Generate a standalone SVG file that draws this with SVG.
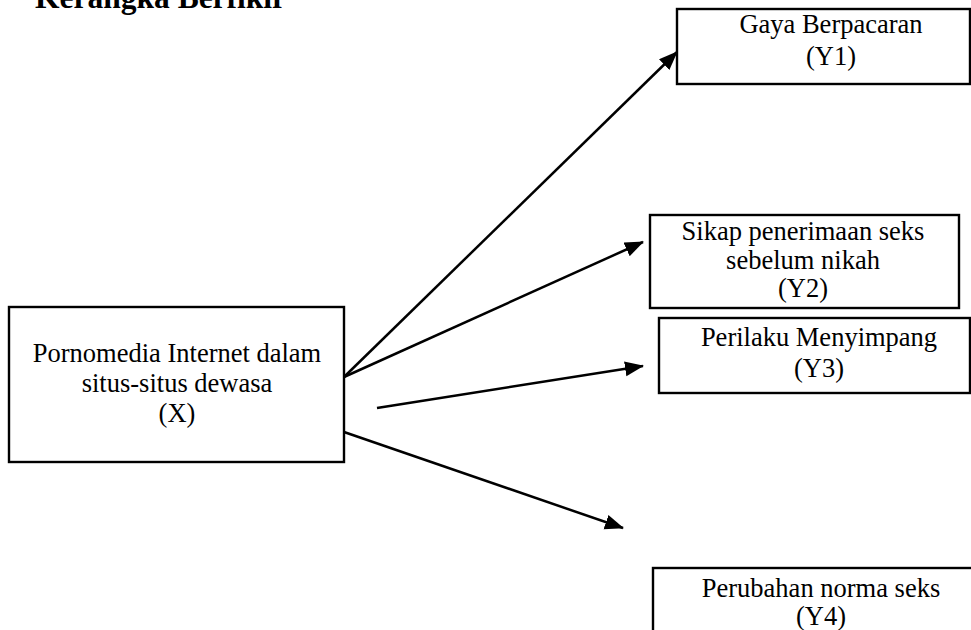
<svg xmlns="http://www.w3.org/2000/svg" width="971" height="630" viewBox="0 0 971 630">
<style>
.box{fill:#fff;stroke:#000;stroke-width:2.4}
.t{font-family:"Liberation Serif","Times New Roman",serif;font-size:26.5px;fill:#000;text-anchor:middle}
.title{font-family:"Liberation Serif","Times New Roman",serif;font-size:31.5px;font-weight:bold;fill:#000}
.c{stroke:#000;stroke-width:2.5;fill:none;marker-end:url(#ah)}
</style>
<defs>
<marker id="ah" markerUnits="userSpaceOnUse" markerWidth="22" markerHeight="18" refX="18" refY="7.5" orient="auto">
<path d="M0,0 L19,7.5 L0,15 z" fill="#000"/>
</marker>
</defs>
<rect width="971" height="630" fill="#fff"/>
<text class="title" x="35" y="8">Kerangka Berfikir</text>
<g id="connectors">
<line class="c" x1="344" y1="377" x2="677" y2="52"/>
<line class="c" x1="344" y1="377" x2="643" y2="242"/>
<line class="c" x1="377" y1="408" x2="643" y2="366"/>
<line class="c" x1="344" y1="432" x2="623" y2="528"/>
</g>
<g id="nodeX">
<rect class="box" x="9" y="307" width="335" height="155"/>
<text class="t" x="177" y="362">Pornomedia Internet dalam</text>
<text class="t" x="177" y="392">situs-situs dewasa</text>
<text class="t" x="177" y="422">(X)</text>
</g>
<g id="nodeY1">
<rect class="box" x="677" y="9" width="293" height="75"/>
<text class="t" x="831" y="33">Gaya Berpacaran</text>
<text class="t" x="831" y="65">(Y1)</text>
</g>
<g id="nodeY2">
<rect class="box" x="650" y="215" width="309" height="93"/>
<text class="t" x="803" y="240">Sikap penerimaan seks</text>
<text class="t" x="803" y="269">sebelum nikah</text>
<text class="t" x="803" y="297">(Y2)</text>
</g>
<g id="nodeY3">
<rect class="box" x="659" y="318" width="311" height="75"/>
<text class="t" x="819" y="346">Perilaku Menyimpang</text>
<text class="t" x="819" y="377">(Y3)</text>
</g>
<g id="nodeY4">
<rect class="box" x="653" y="568" width="330" height="80"/>
<text class="t" x="821" y="597">Perubahan norma seks</text>
<text class="t" x="821" y="625">(Y4)</text>
</g>
</svg>
